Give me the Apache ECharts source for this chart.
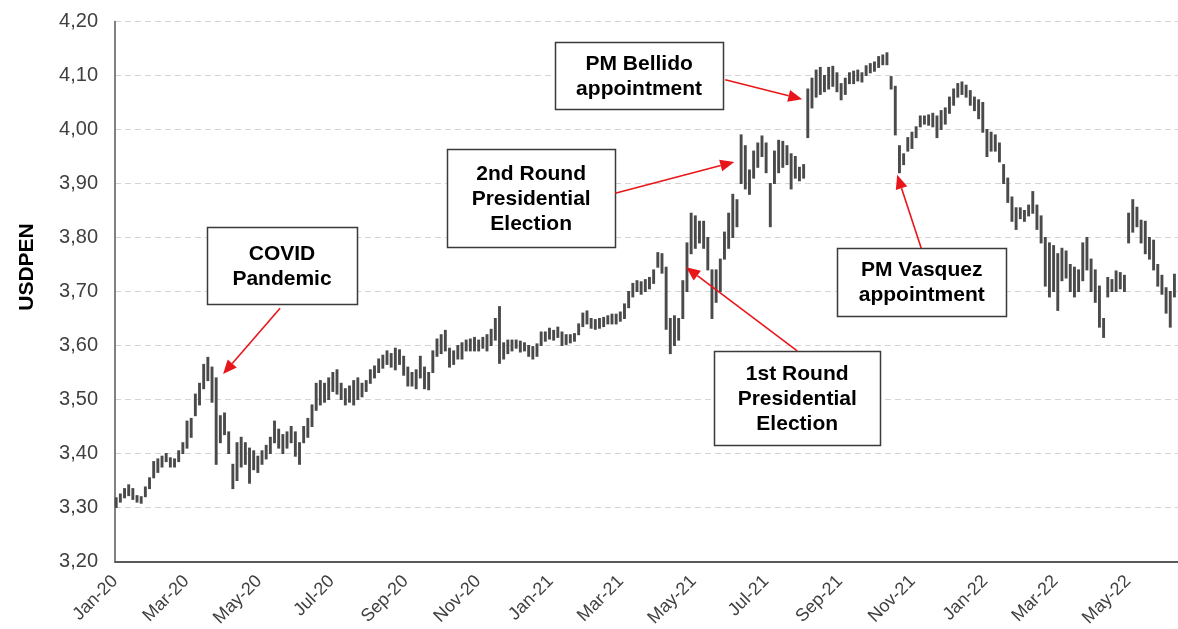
<!DOCTYPE html>
<html><head><meta charset="utf-8">
<script src="https://cdn.jsdelivr.net/npm/echarts@6/dist/echarts.min.js"></script>
<style>html,body{margin:0;padding:0;background:#fff}#c{width:1178px;height:629px}</style>
</head><body><div id="c"></div>
<script>
// Daily USDPEN range, sampled twice a week: day offsets from 1-Jan-2020
const firstDay = 1;
const dayStep = 3.5;
const lows = [
3.300,3.310,3.318,3.322,3.315,3.310,3.308,3.320,3.335,3.355,
3.365,3.375,3.385,3.375,3.375,3.385,3.400,3.410,3.430,3.470,
3.490,3.520,3.535,3.495,3.380,3.420,3.435,3.400,3.335,3.350,
3.375,3.380,3.345,3.370,3.365,3.380,3.390,3.400,3.420,3.410,
3.400,3.410,3.420,3.395,3.380,3.420,3.430,3.450,3.480,3.490,
3.495,3.500,3.515,3.510,3.500,3.490,3.495,3.490,3.500,3.505,
3.515,3.530,3.540,3.550,3.558,3.565,3.560,3.555,3.565,3.545,
3.525,3.525,3.520,3.540,3.520,3.518,3.550,3.580,3.585,3.590,
3.560,3.565,3.575,3.575,3.590,3.590,3.590,3.590,3.595,3.590,
3.600,3.610,3.567,3.575,3.585,3.590,3.595,3.588,3.590,3.580,
3.575,3.580,3.600,3.608,3.612,3.610,3.615,3.600,3.602,3.605,
3.608,3.620,3.635,3.640,3.632,3.630,3.632,3.635,3.640,3.640,
3.640,3.645,3.650,3.670,3.690,3.700,3.695,3.700,3.705,3.715,
3.745,3.734,3.630,3.585,3.600,3.610,3.650,3.700,3.770,3.780,
3.790,3.780,3.740,3.650,3.680,3.700,3.760,3.780,3.800,3.820,
3.900,3.890,3.880,3.910,3.930,3.950,3.920,3.820,3.900,3.920,
3.930,3.935,3.890,3.910,3.905,3.910,3.985,4.040,4.060,4.065,
4.070,4.075,4.080,4.070,4.055,4.065,4.085,4.085,4.090,4.088,
4.100,4.105,4.108,4.115,4.120,4.120,4.075,3.990,3.920,3.935,
3.960,3.965,3.985,4.005,4.010,4.008,4.005,3.985,4.000,4.010,
4.030,4.045,4.060,4.065,4.060,4.045,4.035,4.020,3.995,3.950,
3.960,3.960,3.940,3.900,3.865,3.830,3.815,3.835,3.830,3.840,
3.845,3.815,3.790,3.710,3.690,3.700,3.665,3.720,3.725,3.700,
3.690,3.700,3.720,3.740,3.700,3.680,3.634,3.615,3.690,3.700,
3.700,3.705,3.700,3.790,3.810,3.820,3.790,3.770,3.760,3.740,
3.710,3.695,3.660,3.634,3.690
];
const highs = [
3.318,3.325,3.335,3.342,3.335,3.322,3.320,3.338,3.355,3.385,
3.390,3.395,3.400,3.392,3.390,3.405,3.420,3.460,3.465,3.510,
3.530,3.565,3.578,3.560,3.540,3.470,3.475,3.440,3.380,3.420,
3.430,3.420,3.410,3.405,3.395,3.405,3.415,3.430,3.460,3.445,
3.435,3.440,3.450,3.440,3.420,3.450,3.465,3.490,3.530,3.535,
3.530,3.540,3.550,3.555,3.530,3.520,3.525,3.535,3.540,3.530,
3.535,3.555,3.562,3.575,3.582,3.590,3.585,3.595,3.592,3.580,
3.560,3.550,3.555,3.580,3.560,3.550,3.590,3.612,3.620,3.628,
3.595,3.590,3.600,3.605,3.610,3.612,3.615,3.610,3.615,3.620,
3.630,3.650,3.672,3.605,3.610,3.610,3.610,3.608,3.605,3.600,
3.598,3.603,3.625,3.625,3.632,3.628,3.634,3.625,3.620,3.620,
3.622,3.640,3.660,3.664,3.650,3.648,3.650,3.652,3.655,3.658,
3.658,3.662,3.677,3.700,3.715,3.720,3.718,3.722,3.726,3.740,
3.772,3.770,3.745,3.650,3.655,3.650,3.720,3.790,3.845,3.840,
3.830,3.830,3.800,3.740,3.740,3.760,3.810,3.845,3.880,3.870,
3.990,3.970,3.925,3.960,3.975,3.988,3.975,3.900,3.960,3.980,
3.978,3.970,3.955,3.950,3.930,3.935,4.075,4.095,4.110,4.115,
4.100,4.115,4.117,4.105,4.085,4.095,4.105,4.108,4.110,4.105,
4.118,4.122,4.125,4.135,4.138,4.142,4.098,4.080,3.970,3.955,
3.985,3.995,4.005,4.025,4.025,4.027,4.030,4.025,4.035,4.040,
4.060,4.075,4.085,4.088,4.082,4.072,4.060,4.055,4.050,4.000,
3.995,3.990,3.975,3.935,3.910,3.875,3.855,3.855,3.850,3.860,
3.885,3.860,3.840,3.800,3.790,3.785,3.770,3.780,3.775,3.750,
3.745,3.740,3.790,3.800,3.760,3.740,3.710,3.650,3.726,3.722,
3.738,3.735,3.730,3.845,3.870,3.856,3.832,3.830,3.800,3.795,
3.750,3.730,3.707,3.700,3.732
];
// x-axis tick labels (day offset of each month start)
const tickDays = [0,60,121,182,244,305,366,425,486,547,609,670,731,790,851];
const tickLabels = ['Jan-20','Mar-20','May-20','Jul-20','Sep-20','Nov-20','Jan-21','Mar-21','May-21','Jul-21','Sep-21','Nov-21','Jan-22','Mar-22','May-22'];
const yTicks = {min:3.2, max:4.2, step:0.1};
// annotations: text, box centre (day,value), arrow from -> to (day,value)
const noteTexts = [['COVID','Pandemic'],['2nd Round','Presidential','Election'],['PM Bellido','appointment'],['1st Round','Presidential','Election'],['PM Vasquez','appointment']];
const noteCenters = [[140.3,3.748],[349.6,3.873],[440.3,4.100],[573.1,3.503],[677.7,3.718]];
const noteSizes = [[150,77],[168,98],[168,67],[166,94],[169,68]];
const arrowFrom = [[138.7,3.669],[420.2,3.882],[512.6,4.092],[573.1,3.590],[677.3,3.780]];
const arrowTo = [[90.8,3.547],[520.2,3.940],[577.3,4.056],[479.8,3.745],[657.1,3.916]];

const data = lows.map((lo, i) => [firstDay + i * dayStep, lo, highs[i]]);
const FONT = '"Liberation Sans", Arial, sans-serif';
const chart = echarts.init(document.getElementById('c'));
chart.setOption({
  animation: false,
  backgroundColor: '#fff',
  grid: {left: 115, right: 0, top: 21.5, bottom: 67.5, containLabel: false, outerBoundsMode: 'none'},
  xAxis: {
    type: 'value', min: 0, max: 893,
    axisLine: {show: true, lineStyle: {color: '#595959', width: 2}},
    axisTick: {show: false},
    splitLine: {show: false},
    axisLabel: {
      customValues: tickDays, rotate: 45, margin: 17,
      fontFamily: FONT, fontSize: 18, color: '#404040',
      formatter: v => tickLabels[tickDays.indexOf(v)] || ''
    }
  },
  yAxis: {
    type: 'value', min: yTicks.min, max: yTicks.max, interval: yTicks.step,
    axisLine: {show: true, lineStyle: {color: '#595959', width: 1.5}},
    axisTick: {show: false},
    splitLine: {show: true, lineStyle: {color: '#d4d4d4', type: [6, 4], width: 1}},
    axisLabel: {
      margin: 17, fontFamily: FONT, fontSize: 20, color: '#404040',
      formatter: v => v.toFixed(2).replace('.', ',')
    }
  },
  series: [{
    type: 'custom',
    data: data,
    encode: {x: 0, y: [1, 2]},
    renderItem: (params, api) => {
      const d = api.value(0);
      const p1 = api.coord([d, api.value(1)]);
      const p2 = api.coord([d, api.value(2)]);
      return {type: 'line', shape: {x1: p1[0], y1: p1[1] + 0.5, x2: p2[0], y2: p2[1] - 0.5},
        style: {stroke: '#4a4a4a', lineWidth: 2.9}};
    }
  }]
});

const toPx = p => chart.convertToPixel({gridIndex: 0}, p);
const graphics = [];
graphics.push({
  type: 'text', x: 27, y: 267, rotation: Math.PI / 2,
  style: {text: 'USDPEN', font: 'bold 21px ' + FONT, fill: '#000', align: 'center', verticalAlign: 'middle'}
});
noteTexts.forEach((lines, i) => {
  const c = toPx(noteCenters[i]);
  const [w, h] = noteSizes[i];
  graphics.push({type: 'rect', shape: {x: Math.round(c[0] - w / 2) + 0.5, y: Math.round(c[1] - h / 2) + 0.5, width: w, height: h},
    style: {fill: '#fff', stroke: '#3a3a3a', lineWidth: 1.5}, z: 10});
  graphics.push({type: 'text', x: c[0], y: c[1] + 1, z: 11,
    style: {text: lines.join('\n'), font: 'bold 21px ' + FONT, lineHeight: 25, fill: '#000', align: 'center', verticalAlign: 'middle'}});
  const a = toPx(arrowFrom[i]), b = toPx(arrowTo[i]);
  const dx = b[0] - a[0], dy = b[1] - a[1], L = Math.hypot(dx, dy);
  const ux = dx / L, uy = dy / L, hl = 14, hw = 6;
  const bx = b[0] - ux * hl, by = b[1] - uy * hl;
  graphics.push({type: 'line', shape: {x1: a[0], y1: a[1], x2: bx, y2: by}, style: {stroke: '#e8161b', lineWidth: 1.6}, z: 12});
  graphics.push({type: 'polygon', shape: {points: [[b[0], b[1]], [bx - uy * hw, by + ux * hw], [bx + uy * hw, by - ux * hw]]},
    style: {fill: '#e8161b'}, z: 12});
});
chart.setOption({graphic: graphics});
</script></body></html>
